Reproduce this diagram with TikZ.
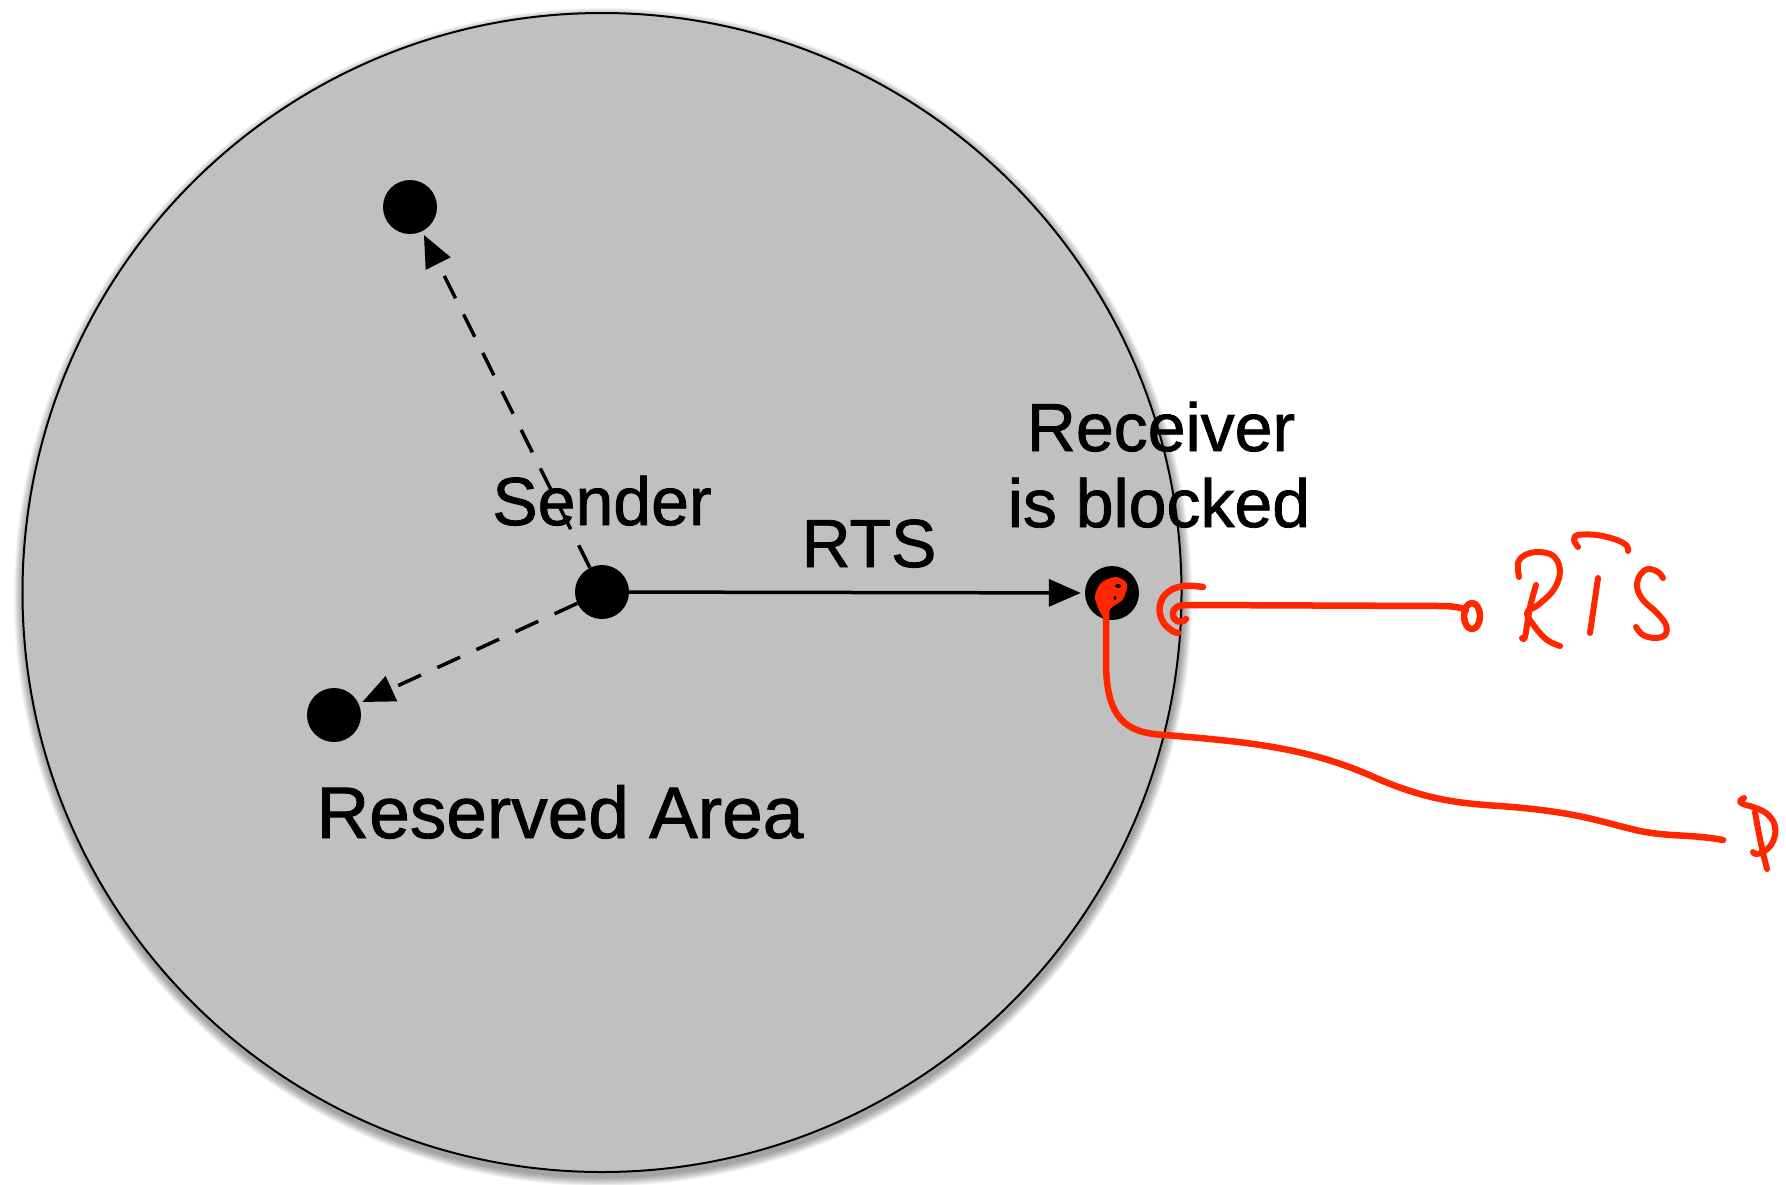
\documentclass[tikz,border=0pt]{standalone}
\usepackage{fontspec}
\setmainfont{Liberation Sans}
\newfontfamily\lblfont[FakeBold=1.2]{Liberation Sans}
\usetikzlibrary{arrows.meta}
\definecolor{areagray}{RGB}{192,192,192}
\definecolor{pen}{RGB}{255,38,0}
\begin{document}
\begin{tikzpicture}[x=1pt,y=-1pt,
  dot/.style={circle,fill=black,minimum size=54pt,inner sep=0pt},
  lbl/.style={anchor=base,inner sep=0pt,font=\lblfont\fontsize{68}{82}\selectfont},
  biglbl/.style={lbl,font=\lblfont\fontsize{73}{88}\selectfont},
  link/.style={line width=3.5pt,-{Triangle[length=32pt,width=27pt]},shorten >=4pt},
  dashlink/.style={link,dash pattern=on 25pt off 18pt},
  ink/.style={draw=pen,line width=6.5pt,line cap=round,line join=round},
  inkthin/.style={ink,line width=6pt}]
\useasboundingbox (0,0) rectangle (1786,1184);
% shadow
\foreach \k in {1,...,10}
  \fill[black,opacity=0.045] (603,597) circle[radius=580pt+\k*0.9pt];
% reserved area
\draw[fill=areagray,line width=2pt] (602,592.5) circle[radius=579.5pt];
% nodes
\node[dot] (s) at (602,592) {};
\node[dot] (t) at (410,207) {};
\node[dot] (b) at (334,715) {};
\node[dot] (r) at (1112,593) {};
% labels
\node[lbl] (sl) at (602,525) {Sender};
\node[lbl] (rtsl) at (869,567) {RTS};
\node[lbl] (rl1) at (1161,451) {Receiver};
\node[lbl] (rl2) at (1159,527) {is blocked};
\node[biglbl] (ra) at (560,838) {Reserved Area};
% connectors
\draw[link] (s) -- (r);
\draw[dashlink] (s) -- (t);
\draw[dashlink] (s) -- (b);
% red annotations
\fill[pen] plot[smooth cycle] coordinates {(1104,618) (1095,598) (1101,583) (1116,577) (1127,584) (1123,599) (1111,608)};
\fill[black] (1118,586) ellipse [x radius=3pt, y radius=2pt];
\fill[black] (1115,598) ellipse [x radius=1.5pt, y radius=2pt];
\draw[ink] (1106,600) -- (1106,665) .. controls (1107,718) and (1125,733) .. (1165,735)
  .. controls (1250,742) and (1310,748) .. (1376,778)
  .. controls (1420,797) and (1450,803) .. (1500,806)
  .. controls (1580,812) and (1600,822) .. (1640,831)
  .. controls (1670,837) and (1690,834) .. (1723,840);
\draw[ink] plot[smooth,tension=0.7] coordinates {(1203,587) (1184,586) (1168,592) (1160,605) (1162,620) (1171,630) (1178,633)};
\draw[ink] (1186,619) .. controls (1181,624) and (1173,622) .. (1173,614)
  .. controls (1173,607) and (1178,605) .. (1190,605) -- (1440,606)
  .. controls (1455,606) and (1462,608) .. (1466,610);
\draw[ink] (1472,616) ellipse [x radius=8pt, y radius=13pt];
% handwritten RTS
\draw[inkthin] plot[smooth,tension=0.6] coordinates {(1519,577) (1518,563) (1525,555) (1538,552) (1552,555) (1559,565) (1559,578) (1552,592) (1538,605) (1527,613) (1535,627) (1547,640) (1560,646)};
\draw[inkthin] plot[smooth] coordinates {(1536,585) (1530,607) (1525,637) (1522,638)};
\draw[inkthin] plot[smooth,tension=0.6] coordinates {(1578,547) (1574,540) (1578,535) (1597,535) (1617,540) (1627,546) (1628,551)};
\draw[inkthin] (1598,578) -- (1590,633);
\draw[inkthin] plot[smooth,tension=0.6] coordinates {(1663,578) (1658,572) (1648,569) (1640,575) (1637,587) (1643,600) (1657,613) (1666,625) (1665,635) (1655,638) (1643,635) (1636,627)};
% handwritten D
\draw[inkthin] plot[smooth,tension=0.6] coordinates {(1744,798) (1740,801) (1743,804) (1753,807) (1766,813) (1774,823) (1775,835) (1771,845) (1763,852) (1756,854) (1753,852)};
\draw[inkthin] (1755,812) .. controls (1758,830) and (1762,850) .. (1767,869);
\end{tikzpicture}
\end{document}
